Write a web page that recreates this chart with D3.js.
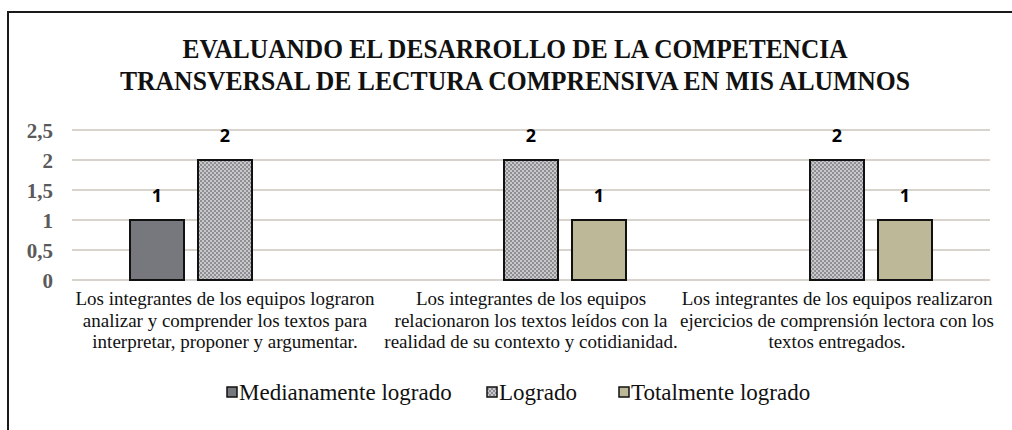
<!DOCTYPE html>
<html>
<head>
<meta charset="utf-8">
<script src="https://cdn.jsdelivr.net/npm/d3@7/dist/d3.min.js"></script>
<style>
  html, body { margin: 0; padding: 0; background: #ffffff; }
  svg { display: block; }
</style>
</head>
<body>
<svg id="chart" width="1012" height="430"></svg>
<script>
const titleLines = ["EVALUANDO EL DESARROLLO DE LA COMPETENCIA", "TRANSVERSAL DE LECTURA COMPRENSIVA EN MIS ALUMNOS"];
const categories = ["c1", "c2", "c3"];
const categoryLabels = [
  ["Los integrantes de los equipos lograron", "analizar y comprender los textos para", "interpretar, proponer y argumentar."],
  ["Los integrantes de los equipos", "relacionaron los textos leídos con la", "realidad de su contexto y cotidianidad."],
  ["Los integrantes de los equipos realizaron", "ejercicios de comprensión lectora con los", "textos entregados."]
];
const series = ["Medianamente logrado", "Logrado", "Totalmente logrado"];
const medianamente = [1, null, null];
const logrado = [2, 2, 2];
const totalmente = [null, 1, 1];
const yTicks = [0, 0.5, 1, 1.5, 2, 2.5];
const yTickLabels = ["0", "0,5", "1", "1,5", "2", "2,5"];

const seriesValues = [medianamente, logrado, totalmente];

const svg = d3.select("#chart");

// defs: checker pattern
const defs = svg.append("defs");
const pat = defs.append("pattern").attr("id", "checker").attr("patternUnits", "userSpaceOnUse")
  .attr("width", 4).attr("height", 4);
pat.append("rect").attr("width", 4).attr("height", 4).attr("fill", "#c9c9cb");
pat.append("rect").attr("x", 0).attr("y", 0).attr("width", 2).attr("height", 2).attr("fill", "#8e8f93");
pat.append("rect").attr("x", 2).attr("y", 2).attr("width", 2).attr("height", 2).attr("fill", "#8e8f93");

const fills = ["#77787d", "url(#checker)", "#bcb898"];

// outer frame
svg.append("rect").attr("x", 8).attr("y", 12).attr("width", 1012).attr("height", 430)
  .attr("fill", "none").attr("stroke", "#1a1a1a").attr("stroke-width", 2);

// title
const titleWidths = [665, 790];
svg.append("g").selectAll("text").data(titleLines).join("text")
  .attr("x", 515).attr("y", (d, i) => 58 + i * 32)
  .attr("text-anchor", "middle")
  .attr("font-family", "'Liberation Serif', 'Times New Roman', serif")
  .attr("font-weight", "bold").attr("font-size", 27)
  .attr("textLength", (d, i) => titleWidths[i]).attr("lengthAdjust", "spacingAndGlyphs")
  .attr("fill", "#111")
  .text(d => d);

const plotLeft = 72, plotRight = 990, plotTop = 130, plotBottom = 280;

const x0 = d3.scaleBand().domain(categories).range([plotLeft, plotRight]).paddingInner(0).paddingOuter(0);
const x1 = d3.scaleBand().domain(series).range([0, x0.bandwidth()]).paddingInner(0.206).paddingOuter(0.853);
const y = d3.scaleLinear().domain([0, 2.5]).range([plotBottom, plotTop]);

// gridlines
svg.append("g").selectAll("line").data(yTicks).join("line")
  .attr("x1", plotLeft).attr("x2", plotRight)
  .attr("y1", d => y(d)).attr("y2", d => y(d))
  .attr("stroke", "#d8d3cd").attr("stroke-width", 2);

// y-axis labels via axis
const yAxis = d3.axisLeft(y).tickValues(yTicks).tickFormat((d, i) => yTickLabels[i]).tickSize(0).tickPadding(0);
const yg = svg.append("g").attr("transform", `translate(${plotLeft - 19},0)`).call(yAxis);
yg.select(".domain").remove();
yg.selectAll("text")
  .attr("font-family", "'Liberation Serif', 'Times New Roman', serif")
  .attr("font-weight", "bold").attr("font-size", 21).attr("fill", "#5a5a5a")
  .attr("dy", "0.35em");

// bars
const groups = svg.append("g").selectAll("g").data(categories).join("g")
  .attr("transform", d => `translate(${x0(d)},0)`);

groups.each(function(cat, ci) {
  const g = d3.select(this);
  const data = series.map((s, si) => ({ s, si, v: seriesValues[si][ci] })).filter(d => d.v != null);
  g.selectAll("rect").data(data).join("rect")
    .attr("x", d => x1(d.s)).attr("width", x1.bandwidth())
    .attr("y", d => y(d.v)).attr("height", d => y(0) - y(d.v))
    .attr("fill", d => fills[d.si]).attr("stroke", "#111").attr("stroke-width", 2);
  g.selectAll("text.val").data(data).join("text").attr("class", "val")
    .attr("x", d => x1(d.s) + x1.bandwidth() / 2)
    .attr("y", d => y(d.v) - 18)
    .attr("text-anchor", "middle")
    .attr("font-family", "'Open Sans', 'Liberation Sans', sans-serif")
    .attr("font-weight", "bold").attr("font-size", 18).attr("fill", "#000")
    .text(d => d.v);
  g.selectAll("text.cat").data(categoryLabels[ci]).join("text").attr("class", "cat")
    .attr("x", x0.bandwidth() / 2)
    .attr("y", (d, i) => 305 + i * 21.5)
    .attr("text-anchor", "middle")
    .attr("font-family", "'Liberation Serif', 'Times New Roman', serif")
    .attr("font-size", 19).attr("fill", "#111")
    .text(d => d);
});

// legend
const legendX = [227, 487, 619];
const lg = svg.append("g").selectAll("g").data(series).join("g")
  .attr("transform", (d, i) => `translate(${legendX[i]},400)`);
lg.append("rect").attr("x", 0).attr("y", -13).attr("width", 10).attr("height", 10)
  .attr("fill", (d, i) => fills[i]).attr("stroke", "#111").attr("stroke-width", 1.5);
lg.append("text").attr("x", 12).attr("y", 0)
  .attr("font-family", "'Liberation Serif', 'Times New Roman', serif")
  .attr("font-size", 23).attr("fill", "#111")
  .text(d => d);
</script>
</body>
</html>
